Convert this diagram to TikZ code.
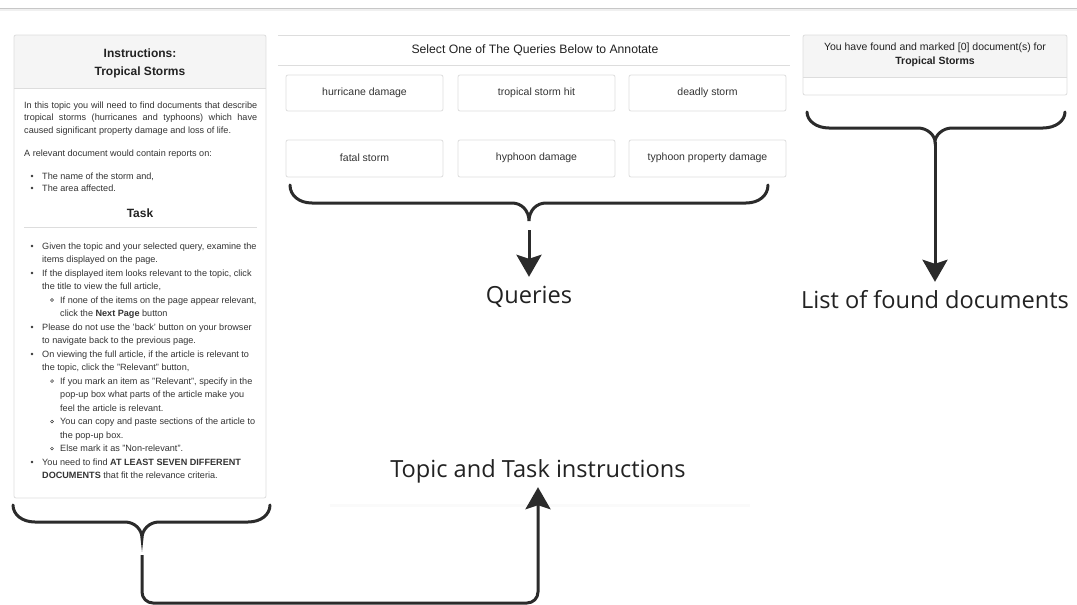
\documentclass[tikz,border=0pt]{standalone}
\usepackage{fontspec}
\setmainfont{Liberation Sans}
\newfontfamily\labelfont{Open Sans}
\usetikzlibrary{arrows.meta,calc}

\definecolor{ink}{HTML}{333333}
\definecolor{headink}{HTML}{222222}
\definecolor{panelline}{HTML}{DDDDDD}
\definecolor{panelhead}{HTML}{F5F5F5}
\definecolor{bracecol}{HTML}{2B2B2B}

% horizontal curly brace: #1 x-left, #2 x-right, #3 y of the ends,
% #4 y of the long bar, #5 y of the point, #6 x of the point
\newcommand\hcurly[6]{%
  \draw[bracestyle] (#1,#3) .. controls (#1,#4-7.5) and (#1+9,#4) .. (#1+22,#4)
    -- (#6-17,#4) .. controls (#6-7.5,#4) and (#6,#4+7.5) .. (#6,#5)
    .. controls (#6,#4+7.5) and (#6+7.5,#4) .. (#6+17,#4)
    -- (#2-22,#4) .. controls (#2-9,#4) and (#2,#4-7.5) .. (#2,#3);}

\begin{document}
\begin{tikzpicture}[x=1pt,y=-1pt,
  body/.style={font=\fontsize{9.1}{11}\selectfont, text=ink, inner sep=0pt},
  panel/.style={draw=panelline, line width=0.8pt},
  query/.style={draw=panelline, line width=0.8pt, rounded corners=2pt, fill=white},
  qtext/.style={font=\fontsize{10.5}{12}\selectfont, text=ink, inner sep=0pt},
  bracestyle/.style={draw=bracecol, line width=3pt, line cap=round},
  pointer/.style={draw=bracecol, line width=3pt,
    -{Stealth[length=22pt,width=25pt,inset=4pt]}, shorten >=10pt},
  biglabel/.style={font=\labelfont\fontsize{23.6}{28}\selectfont, text=headink,
    inner sep=0pt, text height=16pt, text depth=0pt, anchor=base},
]
\useasboundingbox (0,0) rectangle (1077,605);
\fill[white] (0,0) rectangle (1077,605);

% page header rule
\draw[black!6, line width=2pt] (0,10) -- (1077,10);
\draw[black!22, line width=0.8pt] (0,8) -- (1077,8);

% ---------------- instructions panel ----------------
\fill[panelhead] (14,35) rectangle (266,88);
\draw[panel] (14,88) -- (266,88);
\draw[panel, rounded corners=2pt] (14,35) rectangle (266,498);
\node[font=\bfseries\fontsize{12}{18.5}\selectfont, text=headink, align=center]
  (insthead) at (140,63.5) {Instructions:\\Tropical Storms};

\node[body, anchor=base west] (p1) at (24,108) {\makebox[233pt][s]{In this topic you will need to find documents that describe}};
\node[body, anchor=base west] (p2) at (24,120.5) {\makebox[233pt][s]{tropical storms (hurricanes and typhoons) which have}};
\node[body, anchor=base west] (p3) at (24,133) {caused significant property damage and loss of life.};
\node[body, anchor=base west] (p4) at (24,156) {A relevant document would contain reports on:};
\node[body, anchor=base west] (p5) at (42,179) {The name of the storm and,};
\node[body, anchor=base west] (p6) at (42,191) {The area affected.};
\fill[ink] (32,176) circle (1.3pt);
\fill[ink] (32,188) circle (1.3pt);

\node[font=\bfseries\fontsize{12}{14}\selectfont, text=headink, inner sep=0pt, anchor=base]
  (taskhead) at (140,217.5) {Task};
\draw[panel, line width=1pt] (24,227.5) -- (257,227.5);

\foreach \lv/\bu/\tx [count=\i from 0] in {
  1/1/{Given the topic and your selected query, examine the},
  1/0/{items displayed on the page.},
  1/1/{If the displayed item looks relevant to the topic, click},
  1/0/{the title to view the full article,},
  2/1/{If none of the items on the page appear relevant,},
  2/0/{click the \textbf{Next Page} button},
  1/1/{Please do not use the 'back' button on your browser},
  1/0/{to navigate back to the previous page.},
  1/1/{On viewing the full article, if the article is relevant to},
  1/0/{the topic, click the "Relevant" button,},
  2/1/{If you mark an item as "Relevant", specify in the},
  2/0/{pop-up box what parts of the article make you},
  2/0/{feel the article is relevant.},
  2/1/{You can copy and paste sections of the article to},
  2/0/{the pop-up box.},
  2/1/{Else mark it as "Non-relevant".},
  1/1/{You need to find \textbf{AT LEAST SEVEN DIFFERENT}},
  1/0/{\textbf{DOCUMENTS} that fit the relevance criteria.}}
{
  \pgfmathsetmacro\yy{249+13.5*\i}
  \ifnum\lv=1 \def\xx{42}\def\bx{32}\else\def\xx{60}\def\bx{52}\fi
  \node[body, anchor=base west] (task\i) at (\xx,\yy) {\tx};
  \ifnum\bu=1
    \ifnum\lv=1
      \fill[ink] (\bx,\yy-3) circle (1.3pt);
    \else
      \draw[ink, line width=0.5pt] (\bx,\yy-3) circle (1.4pt);
    \fi
  \fi
}

% ---------------- query panel ----------------
\draw[panelline, line width=0.8pt] (278,35) -- (790,35);
\draw[panelline, line width=0.8pt] (278,65) -- (790,65);
\node[font=\fontsize{12.2}{14}\selectfont, text=headink, inner sep=0pt]
  (qhead) at (535,50.5) {Select One of The Queries Below to Annotate};

\draw[query] (286,75) rectangle (443,111);
\draw[query] (458,75) rectangle (615,111);
\draw[query] (629,75) rectangle (786,111);
\draw[query] (286,140) rectangle (443,177);
\draw[query] (458,140) rectangle (615,177);
\draw[query] (629,140) rectangle (786,177);
\node[qtext] (q1) at (364.5,92.5) {hurricane damage};
\node[qtext] (q2) at (536.5,92.5) {tropical storm hit};
\node[qtext] (q3) at (707.5,92.5) {deadly storm};
\node[qtext] (q4) at (364.5,158) {fatal storm};
\node[qtext] (q5) at (536.5,158) {hyphoon damage};
\node[qtext] (q6) at (707.5,158) {typhoon property damage};

% ---------------- found-documents panel ----------------
\fill[panelhead] (803,35) rectangle (1067,77);
\draw[panel] (803,77) -- (1067,77);
\draw[panel, rounded corners=2pt] (803,35) rectangle (1067,95);
\node[font=\fontsize{10.5}{14}\selectfont, text=headink, align=center, inner sep=0pt]
  (found) at (935,54.5) {You have found and marked [0] document(s) for\\\textbf{Tropical Storms}};

% ---------------- braces ----------------
\hcurly{290}{768}{185}{203}{221}{529}
\coordinate (qtip) at (529,221);
\hcurly{807}{1065}{112}{128}{142}{935}
\coordinate (rtip) at (935,142);
\hcurly{13}{270}{505}{522}{538}{142}
\coordinate (ltip) at (142,538);

% ---------------- labels and pointers ----------------
\node[biglabel] (qlab) at (529,303) {Queries};
\node[biglabel] (llab) at (935,308) {List of found documents};
\node[biglabel] (tlab) at (538,477) {Topic and Task instructions};
\coordinate (rail) at (0,603);

\draw[black!2, line width=3pt] (330,505) -- (750,505);

\draw[pointer] ($(qtip)+(0,9)$) -- (qlab.north);
\draw[pointer] (rtip) -- (llab.north);
\draw[pointer, rounded corners=11pt] ($(ltip)+(0,17)$) -- (ltip |- rail)
  -- (tlab.south |- rail) -- (tlab.south);
\end{tikzpicture}
\end{document}
